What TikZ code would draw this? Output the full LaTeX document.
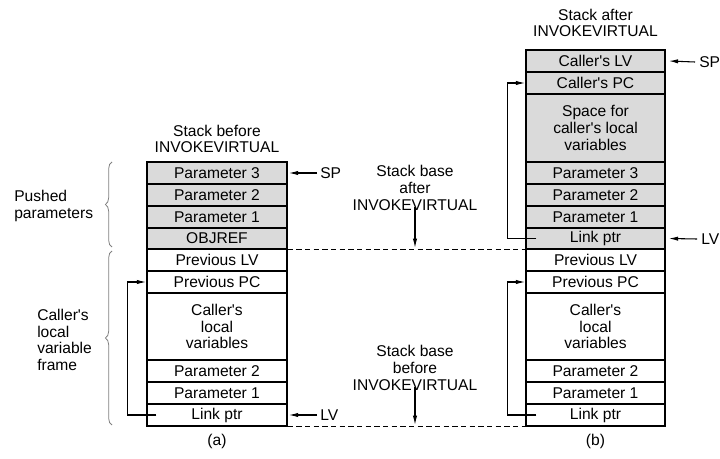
\documentclass[tikz,border=0pt]{standalone}
\usepackage{fontspec}
\newfontfamily\hv{Liberation Sans}
\usetikzlibrary{arrows.meta,calc,decorations.pathreplacing}
\definecolor{cellgray}{RGB}{218,218,218}
\tikzset{
  cell/.style={draw=black, line width=1.1pt, rectangle, inner sep=0pt, align=center,
    font=\hv\fontsize{11.7}{12.6}\selectfont},
  gcell/.style={cell, fill=cellgray},
  lbl/.style={inner sep=0pt, align=center, font=\hv\fontsize{11.7}{12.6}\selectfont},
  ptr/.style={line width=0.8pt, -{Latex[length=7pt,width=3.2pt]}},
  base/.style={line width=0.8pt, dashed, dash pattern=on 4pt off 2.5pt},
  brc/.style={draw=gray, line width=0.6pt, decorate, decoration={brace, amplitude=5pt}}
}
\begin{document}
\begin{tikzpicture}[x=0.75pt,y=-0.75pt]
\useasboundingbox (0,0) rectangle (720,459);
% left stack (a)
\def\wL{105pt}
\node[gcell, minimum width=\wL, minimum height=16.5pt] (L1) at (217,173) {Parameter 3};
\node[gcell, minimum width=\wL, minimum height=16.5pt] (L2) at (217,195) {Parameter 2};
\node[gcell, minimum width=\wL, minimum height=16.5pt] (L3) at (217,217) {Parameter 1};
\node[gcell, minimum width=\wL, minimum height=15.75pt] (L4) at (217,238.5) {OBJREF};
\node[cell, minimum width=\wL, minimum height=16.5pt] (L5) at (217,260) {Previous LV};
\node[cell, minimum width=\wL, minimum height=16.5pt] (L6) at (217,282) {Previous PC};
\node[cell, minimum width=\wL, minimum height=50.25pt] (L7) at (217,326.5) {Caller's\\local\\variables};
\node[cell, minimum width=\wL, minimum height=16.5pt] (L8) at (217,371) {Parameter 2};
\node[cell, minimum width=\wL, minimum height=16.5pt] (L9) at (217,393) {Parameter 1};
\node[cell, minimum width=\wL, minimum height=16.5pt] (L10) at (217,415) {Link ptr};
% right stack (b)
\def\wR{104.25pt}
\node[gcell, minimum width=\wR, minimum height=16.5pt] (R1) at (595.5,61) {Caller's LV};
\node[gcell, minimum width=\wR, minimum height=16.5pt] (R2) at (595.5,83) {Caller's PC};
\node[gcell, minimum width=\wR, minimum height=51pt] (R3) at (595.5,128) {Space for\\caller's local\\variables};
\node[gcell, minimum width=\wR, minimum height=16.5pt] (R4) at (595.5,173) {Parameter 3};
\node[gcell, minimum width=\wR, minimum height=16.5pt] (R5) at (595.5,195) {Parameter 2};
\node[gcell, minimum width=\wR, minimum height=16.5pt] (R6) at (595.5,217) {Parameter 1};
\node[gcell, minimum width=\wR, minimum height=15.75pt] (R7) at (595.5,238.5) {Link ptr};
\node[cell, minimum width=\wR, minimum height=16.5pt] (R8) at (595.5,260) {Previous LV};
\node[cell, minimum width=\wR, minimum height=16.5pt] (R9) at (595.5,282) {Previous PC};
\node[cell, minimum width=\wR, minimum height=50.25pt] (R10) at (595.5,326.5) {Caller's\\local\\variables};
\node[cell, minimum width=\wR, minimum height=16.5pt] (R11) at (595.5,371) {Parameter 2};
\node[cell, minimum width=\wR, minimum height=16.5pt] (R12) at (595.5,393) {Parameter 1};
\node[cell, minimum width=\wR, minimum height=16.5pt] (R13) at (595.5,415) {Link ptr};
% titles
\node[lbl] (tA) at (217,139) {Stack before\\INVOKEVIRTUAL};
\node[lbl] (tB) at (595.5,23) {Stack after\\INVOKEVIRTUAL};
\node[lbl] (ca) at (217,441) {(a)};
\node[lbl] (cb) at (595.5,441) {(b)};
% SP / LV pointers
\node[lbl, anchor=west] (spA) at (320,173) {SP};
\node[lbl, anchor=west] (lvA) at (320,415) {LV};
\node[lbl, anchor=west] (spB) at (699,62) {SP};
\node[lbl, anchor=west] (lvB) at (701,239) {LV};
\draw[ptr] ($(spA.west)+(-3,0)$) -- ($(L1.east)+(1,0)$);
\draw[ptr] ($(lvA.west)+(-3,0)$) -- ($(L10.east)+(1,0)$);
\draw[ptr] ($(spB.west)+(-4,0)$) -- ($(R1.east)+(3,0)$);
\draw[ptr] ($(lvB.west)+(-4,0)$) -- ($(R7.east)+(3,0)$);
% link pointers
\draw[ptr] ($(L10.west)+(10,0)$) -- ++(-29,0) |- (L6.west);
\draw[ptr] ($(R7.west)+(11,0)$) -- ++(-29,0) |- (R2.west);
\draw[ptr] ($(R13.west)+(11,0)$) -- ++(-29,0) |- (R9.west);
% stack bases
\draw[base] (L4.south east) -- (R7.south west);
\draw[base] (L10.south east) -- (R13.south west);
\node[lbl] (sbA) at (415,188) {Stack base\\after\\INVOKEVIRTUAL};
\node[lbl] (sbB) at (415,368) {Stack base\\before\\INVOKEVIRTUAL};
\coordinate (dA) at (415,248);
\coordinate (dB) at (415,425);
\draw[ptr] ($(sbA.south)+(0,-4)$) -- (dA);
\draw[ptr] ($(sbB.south)+(0,-4)$) -- (dB);
% braces
\draw[brc] (112,247) -- (112,162);
\draw[brc] (112,425) -- (112,251);
\node[lbl, align=left, anchor=west] (pp) at (14,206) {Pushed\\parameters};
\node[lbl, align=left, anchor=west] (cl) at (37,340) {Caller's\\local\\variable\\frame};
\end{tikzpicture}
\end{document}
